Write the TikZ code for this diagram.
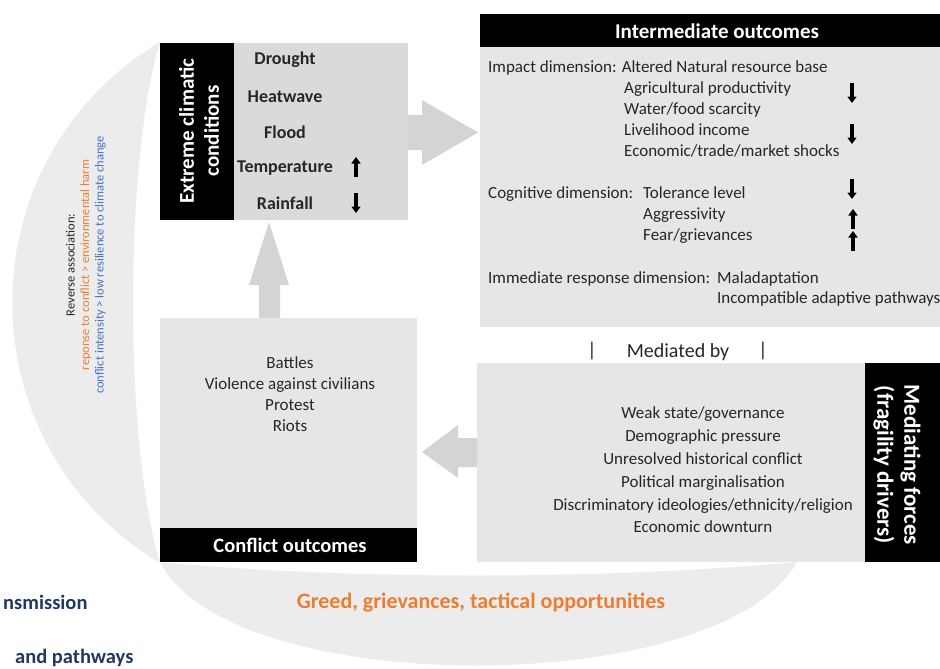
\documentclass[tikz,border=0pt]{standalone}
\usepackage{fontspec}
\setmainfont{Carlito}
\usetikzlibrary{arrows.meta}
\definecolor{boxgray}{HTML}{E6E6E6}
\definecolor{extgray}{HTML}{DADADA}
\definecolor{crescent}{HTML}{ECECEC}
\definecolor{arrowgray}{HTML}{D4D4D4}
\definecolor{txt}{HTML}{262626}
\definecolor{orng}{HTML}{ED7D31}
\definecolor{blu}{HTML}{4472C4}
\definecolor{navy}{HTML}{1F3864}
\tikzset{
  panel/.style={fill=boxgray, draw=none, inner sep=0pt, outer sep=0pt, anchor=north west},
  band/.style={fill=black, draw=none, inner sep=0pt, outer sep=0pt, anchor=north west},
  body/.style={text=txt, inner sep=0pt, font=\fontsize{17}{20.7}\selectfont},
  bodyl/.style={body, anchor=base west},
  boldtxt/.style={text=txt, inner sep=0pt, font=\fontsize{18}{20}\selectfont\bfseries},
  head/.style={text=white, inner sep=0pt, font=\fontsize{21}{25}\selectfont\bfseries},
  updn/.style={line width=3.2pt, -{Triangle[length=6.5pt,width=9pt]}, black},
  blockarrow/.style={fill=arrowgray, draw=none},
  navytxt/.style={inner sep=0pt, text=navy, font=\fontsize{20.5}{22}\selectfont\bfseries},
}
\begin{document}
\begin{tikzpicture}[x=1pt,y=-1pt]
\useasboundingbox (0,0) rectangle (940,669);
% crescents
\fill[crescent] (160,42) .. controls (-37,160) and (-37,445) .. (160,563)
   .. controls (124,445) and (124,160) .. cycle;
\fill[crescent] (160,562) .. controls (230,700) and (720,700) .. (797,562)
   .. controls (600,580) and (350,580) .. cycle;
% boxes
\node[panel, fill=extgray, minimum width=248, minimum height=177] (ext) at (160,43) {};
\node[band, minimum width=74, minimum height=177] (extband) at (160,43) {};
\node[band, minimum width=470, minimum height=33] (interhead) at (480,14) {};
\node[panel, minimum width=470, minimum height=280] (inter) at (480,47) {};
\node[panel, minimum width=257, minimum height=244] (conf) at (160,318) {};
\node[band, minimum width=257, minimum height=34] (confband) at (160,528) {};
\node[panel, minimum width=388, minimum height=199] (med) at (477,363) {};
\node[band, minimum width=85, minimum height=199] (medband) at (865,363) {};
% block arrows
\fill[blockarrow] (408,115) -- (422,115) -- (422,100) -- (478,132.5) -- (422,165) -- (422,150) -- (408,150) -- cycle;
\fill[blockarrow] (259,318) -- (259,285) -- (249,285) -- (269,222) -- (289,285) -- (280,285) -- (280,318) -- cycle;
\fill[blockarrow] (477,438) -- (458,438) -- (458,425) -- (422,452) -- (458,478) -- (458,467) -- (477,467) -- cycle;
% extreme climatic conditions
\node[head, rotate=90, align=center] (exttitle) at (199,131) {Extreme climatic\\conditions};
\node[boldtxt] (drought) at (285,60) {Drought};
\node[boldtxt] (heat) at (285,97) {Heatwave};
\node[boldtxt] (flood) at (285,132) {Flood};
\node[boldtxt] (temp) at (285,168) {Temperature};
\node[boldtxt] (rain) at (285,203) {Rainfall};
\draw[updn] (356,177) -- (356,157);
\draw[updn] (356,193) -- (356,213);
% intermediate outcomes
\node[head] (intertitle) at (717,31) {Intermediate outcomes};
\node[bodyl] (imp) at (488,73) {Impact dimension: Altered Natural resource base};
\node[bodyl] (agri) at (624,94) {Agricultural productivity};
\node[bodyl] (water) at (624,114) {Water/food scarcity};
\node[bodyl] (live) at (624,135) {Livelihood income};
\node[bodyl] (econ) at (624,156) {Economic/trade/market shocks};
\node[bodyl] (cog) at (488,198) {Cognitive dimension:};
\node[bodyl] (tol) at (643,198) {Tolerance level};
\node[bodyl] (aggr) at (643,219) {Aggressivity};
\node[bodyl] (fear) at (643,240) {Fear/grievances};
\node[bodyl] (immr) at (488,283) {Immediate response dimension:};
\node[bodyl] (mala) at (717,283) {Maladaptation};
\node[bodyl] (incomp) at (717,303) {Incompatible adaptive pathways};
\draw[updn] (852,83) -- (852,103);
\draw[updn] (852,124) -- (852,144);
\draw[updn] (852,179) -- (852,199);
\draw[updn] (853,229) -- (853,209);
\draw[updn] (853,251) -- (853,231);
% mediated by
\node[body, font=\fontsize{20}{24}\selectfont] (medby) at (678,352) {Mediated by};
\node[body, font=\fontsize{20}{24}\selectfont] (barl) at (592,351) {|};
\node[body, font=\fontsize{20}{24}\selectfont] (barr) at (763,351) {|};
% mediating forces
\node[body, align=center, font=\fontsize{17}{22.8}\selectfont] (medlist) at (703,470)
  {Weak state/governance\\Demographic pressure\\Unresolved historical conflict\\Political marginalisation\\Discriminatory ideologies/ethnicity/religion\\Economic downturn};
\node[head, rotate=-90, align=center, font=\fontsize{23}{27}\selectfont\bfseries] (medtitle) at (897,465) {Mediating forces\\(fragility drivers)};
% conflict outcomes
\node[body, align=center, font=\fontsize{17}{21}\selectfont] (conflist) at (290,394.5)
  {Battles\\Violence against civilians\\Protest\\Riots};
\node[head, font=\fontsize{20.5}{25}\selectfont\bfseries] (conftitle) at (290,545) {Conflict outcomes};
% crescent labels
\node[inner sep=0pt, rotate=90, align=center, font=\fontsize{12.5}{14.5}\selectfont] (reverse) at (86,265)
  {\textcolor{txt}{Reverse association:}\\\textcolor{orng}{reponse to conflict > environmental harm}\\\textcolor{blu}{conflict intensity > low resilience to climate change}};
\node[inner sep=0pt, text=orng, font=\fontsize{22}{24}\selectfont\bfseries] (greed) at (481,603) {Greed, grievances, tactical opportunities};
% title fragment
\node[navytxt, anchor=base west] (tt1) at (3,609) {nsmission};
\node[navytxt, anchor=base west] (tt2) at (15,663) {and pathways};
\end{tikzpicture}
\end{document}
